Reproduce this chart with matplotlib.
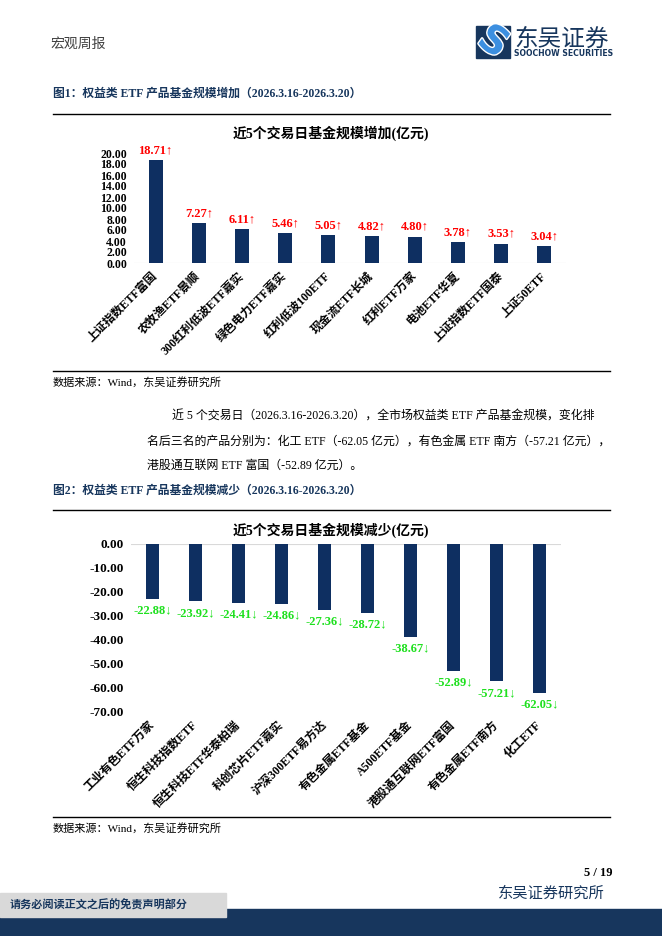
import numpy as np
import matplotlib.pyplot as plt
from matplotlib.lines import Line2D
from matplotlib.patches import Rectangle
import matplotlib.patheffects as pe

plt.rcParams['font.family'] = ['Liberation Serif', 'Noto Sans CJK SC']

# data
up_names = ['上证指数ETF富国', '农牧渔ETF景顺', '300红利低波ETF嘉实', '绿色电力ETF嘉实',
            '红利低波100ETF', '现金流ETF长城', '红利ETF万家', '电池ETF华夏',
            '上证指数ETF国泰', '上证50ETF']
up_values = [18.71, 7.27, 6.11, 5.46, 5.05, 4.82, 4.80, 3.78, 3.53, 3.04]
up_ticks = [0, 2, 4, 6, 8, 10, 12, 14, 16, 18, 20]

down_names = ['工业有色ETF万家', '恒生科技指数ETF', '恒生科技ETF华泰柏瑞', '科创芯片ETF嘉实',
              '沪深300ETF易方达', '有色金属ETF基金', 'A500ETF基金', '港股通互联网ETF富国',
              '有色金属ETF南方', '化工ETF']
down_values = [-22.88, -23.92, -24.41, -24.86, -27.36, -28.72, -38.67, -52.89, -57.21, -62.05]
down_ticks = [-70, -60, -50, -40, -30, -20, -10, 0]

NAVY = '#17365D'
BAR = '#0E2F61'
RED = '#FF0000'
GREEN = '#1EE01E'

W, H = 662, 936


def fx(x):
    return x / W


def fy(y):
    return 1 - y / H


fig = plt.figure(figsize=(W / 100, H / 100), dpi=100)


def hline(y, x0=53, x1=610, color='black', lw=1.0):
    fig.add_artist(Line2D([fx(x0), fx(x1)], [fy(y), fy(y)], color=color, lw=lw))


def px_axes(x0, y0, x1, y1):
    return fig.add_axes([fx(x0), fy(y1), (x1 - x0) / W, (y1 - y0) / H])


def bar_panel(ax, names, values, ticks, up, ysize):
    x = np.arange(len(names))
    ax.bar(x, values, width=0.32, color=BAR, zorder=2)
    ax.set_xlim(-0.5, len(names) - 0.5)
    ax.set_ylim(ticks[0], ticks[-1])
    ax.set_yticks(ticks)
    ax.set_yticklabels([f'{t:.2f}' for t in ticks], fontweight='bold', fontsize=ysize)
    ax.set_xticks(x)
    ax.set_xticklabels(names, rotation=45, ha='right', va='center',
                       rotation_mode='anchor', fontweight='bold', fontsize=8.5)
    ax.tick_params(length=0)
    ax.tick_params(axis='y', pad=5)
    ax.tick_params(axis='x', pad=8)
    for s in ax.spines.values():
        s.set_visible(False)
    ax.axhline(0, color='#D9D9D9', lw=0.8, zorder=1)
    for xi, v in zip(x, values):
        if up:
            ax.annotate(f'{v:.2f}↑', (xi, v), xytext=(0, 3), textcoords='offset points',
                        ha='center', va='bottom', color=RED, fontweight='bold', fontsize=9)
        else:
            ax.annotate(f'{v:.2f}↓', (xi, v), xytext=(0, -4), textcoords='offset points',
                        ha='center', va='top', color=GREEN, fontweight='bold', fontsize=9)


# header
fig.text(fx(50), fy(44), '宏观周报', fontsize=10, color='#404040', va='center')
fig.add_artist(Rectangle((fx(476), fy(58)), 34 / W, 32 / H, color=NAVY, transform=fig.transFigure))
fig.text(fx(493), fy(42), 'S', fontsize=28, fontweight='bold', color='#3C8FE0', rotation=-35,
         ha='center', va='center', family='DejaVu Sans',
         path_effects=[pe.withStroke(linewidth=2, foreground='white')])
fig.text(fx(514), fy(39), '东吴证券', fontsize=17, color=NAVY, va='center', family='Noto Sans CJK SC')
fig.text(fx(514), fy(54), 'SOOCHOW SECURITIES', fontsize=5.6, fontweight='bold', color=NAVY,
         va='center', family='DejaVu Sans')

# figure 1
fig.text(fx(53), fy(94), '图1：权益类 ETF 产品基金规模增加（2026.3.16-2026.3.20）',
         fontsize=8.5, fontweight='bold', color=NAVY, va='center')
hline(114)
fig.text(fx(331), fy(133), '近5个交易日基金规模增加(亿元)', fontsize=10, fontweight='bold',
         ha='center', va='center')
ax1 = px_axes(134, 153, 566, 263)
bar_panel(ax1, up_names, up_values, up_ticks, True, 8.5)
hline(371)
fig.text(fx(53), fy(382), '数据来源：Wind，东吴证券研究所', fontsize=8, va='center')

# paragraph
para = ['近 5 个交易日（2026.3.16-2026.3.20），全市场权益类 ETF 产品基金规模，变化排',
        '名后三名的产品分别为：化工 ETF（-62.05 亿元），有色金属 ETF 南方（-57.21 亿元），',
        '港股通互联网 ETF 富国（-52.89 亿元）。']
fig.text(fx(172), fy(417), para[0], fontsize=8.6, va='center')
fig.text(fx(147), fy(442), para[1], fontsize=8.6, va='center')
fig.text(fx(147), fy(466), para[2], fontsize=8.6, va='center')

# figure 2
fig.text(fx(53), fy(491), '图2：权益类 ETF 产品基金规模减少（2026.3.16-2026.3.20）',
         fontsize=8.5, fontweight='bold', color=NAVY, va='center')
hline(510)
fig.text(fx(331), fy(530), '近5个交易日基金规模减少(亿元)', fontsize=10, fontweight='bold',
         ha='center', va='center')
ax2 = px_axes(131, 544, 561, 712)
bar_panel(ax2, down_names, down_values, down_ticks, False, 9.5)
hline(817)
fig.text(fx(53), fy(828), '数据来源：Wind，东吴证券研究所', fontsize=8, va='center')

# footer
fig.text(fx(613), fy(873), '5 / 19', fontsize=9, fontweight='bold', ha='right', va='center')
fig.text(fx(605), fy(894), '东吴证券研究所', fontsize=11, color=NAVY, ha='right', va='center')
fig.add_artist(Rectangle((0, fy(936)), 1, 27 / H, color=NAVY, transform=fig.transFigure))
fig.add_artist(Rectangle((0, fy(917)), 226 / W, 24 / H, color='#D9D9D9', transform=fig.transFigure))
fig.text(fx(10), fy(905), '请务必阅读正文之后的免责声明部分', fontsize=8, fontweight='bold',
         color=NAVY, va='center')

fig.savefig('out.png', dpi=100)
